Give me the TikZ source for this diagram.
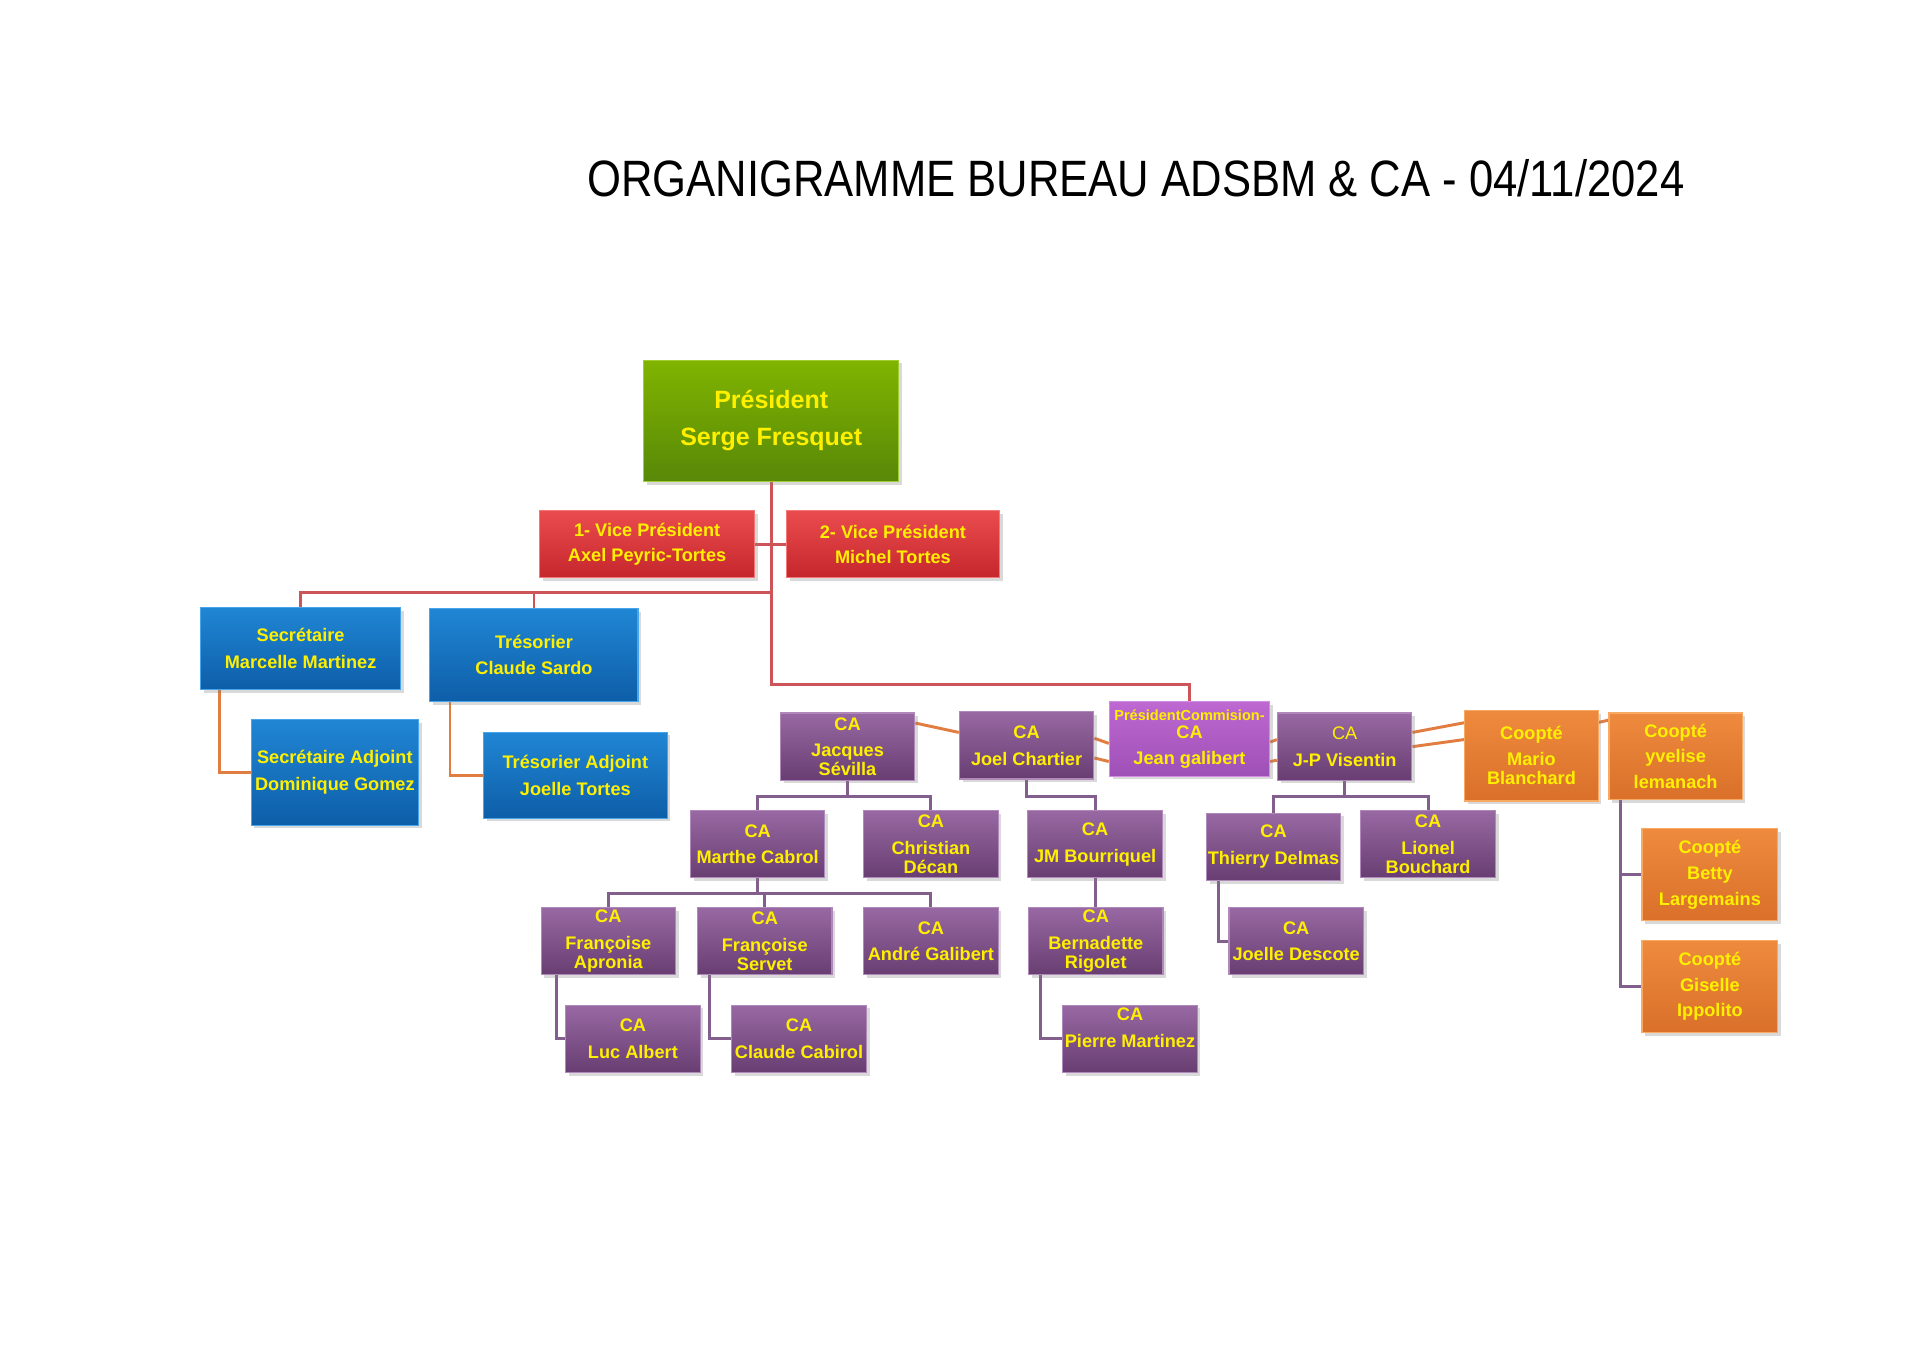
\documentclass[tikz,border=0pt]{standalone}
\usepackage{fontspec}
\setmainfont{Liberation Sans}
\usepackage{graphicx}
\usetikzlibrary{positioning,calc,shadows,backgrounds}

\definecolor{txtyellow}{RGB}{255,240,0}
\definecolor{greentop}{RGB}{128,180,0}
\definecolor{greenbot}{RGB}{88,136,8}
\definecolor{greenedge}{RGB}{160,205,50}
\definecolor{redtop}{RGB}{234,76,78}
\definecolor{redbot}{RGB}{196,38,44}
\definecolor{rededge}{RGB}{245,120,120}
\definecolor{bluetop}{RGB}{32,134,212}
\definecolor{bluebot}{RGB}{14,94,168}
\definecolor{blueedge}{RGB}{70,165,235}
\definecolor{purtop}{RGB}{152,104,162}
\definecolor{purbot}{RGB}{104,62,114}
\definecolor{puredge}{RGB}{176,136,186}
\definecolor{magtop}{RGB}{190,104,210}
\definecolor{magbot}{RGB}{158,80,182}
\definecolor{magedge}{RGB}{210,140,228}
\definecolor{orgtop}{RGB}{238,138,62}
\definecolor{orgbot}{RGB}{218,112,42}
\definecolor{orgedge}{RGB}{248,170,100}
\definecolor{redline}{RGB}{205,85,90}
\definecolor{orgline}{RGB}{225,125,65}
\definecolor{purline}{RGB}{130,95,140}

\begin{document}
\begin{tikzpicture}[
        x=1mm, y=1mm,
        box/.style={rectangle, inner sep=0pt, align=center, text=txtyellow,
                    line width=0.5pt,
                    font=\bfseries\fontsize{8}{11.8}\selectfont,
                    drop shadow={opacity=0.3, shadow xshift=0.5mm, shadow yshift=-0.5mm}},
        presbox/.style={box, top color=greentop, bottom color=greenbot, draw=greenedge,
                        minimum width=39.4mm, minimum height=18.75mm,
                        font=\bfseries\fontsize{11}{16.2}\selectfont},
        vicebox/.style={box, top color=redtop, bottom color=redbot, draw=rededge,
                        minimum width=33.3mm, minimum height=10.4mm,
                        font=\bfseries\fontsize{8}{11.3}\selectfont},
        bureaubox/.style={box, top color=bluetop, bottom color=bluebot, draw=blueedge},
        cabox/.style={box, top color=purtop, bottom color=purbot, draw=puredge,
                      minimum width=20.8mm, minimum height=10.4mm,
                      font=\bfseries\fontsize{8}{8.2}\selectfont},
        commbox/.style={cabox, top color=magtop, bottom color=magbot, draw=magedge,
                        minimum width=24.8mm, minimum height=11.55mm},
        cooptbox/.style={box, top color=orgtop, bottom color=orgbot, draw=orgedge,
                         minimum width=20.6mm, minimum height=14mm,
                         font=\bfseries\fontsize{8}{11.3}\selectfont},
        redlink/.style={draw=redline, line width=1.3pt},
        orglink/.style={draw=orgline, line width=1.3pt},
        purlink/.style={draw=purline, line width=1.3pt}
    ]
    \useasboundingbox (0,0) rectangle (297,210);

    \node[font=\fontsize{22.5}{27}\selectfont] (title) at (175.7,182.5)
        {\scalebox{0.853}[1]{ORGANIGRAMME BUREAU ADSBM \& CA - 04/11/2024}};

    % bureau
    \node[presbox] (pres) at (119.3,144.9) {Président\\Serge Fresquet};
    \node[vicebox] (vp1) at (100.1,125.8) {1- Vice Président\\Axel Peyric-Tortes};
    \node[vicebox, right=4.7mm of vp1, minimum width=33mm] (vp2) {2- Vice Président\\Michel Tortes};

    \node[bureaubox, minimum width=30.9mm, minimum height=12.7mm] (sec) at (46.5,109.7) {Secrétaire\\Marcelle Martinez};
    \node[bureaubox, minimum width=32.2mm, minimum height=14.4mm] (tres) at (82.6,108.7) {Trésorier\\Claude Sardo};
    \node[bureaubox, minimum width=25.9mm, minimum height=16.3mm] (secadj) at (51.8,90.5) {Secrétaire Adjoint\\Dominique Gomez};
    \node[bureaubox, minimum width=28.4mm, minimum height=13.3mm] (tresadj) at (89.0,90.1) {Trésorier Adjoint\\Joelle Tortes};

    % CA, first row
    \node[cabox] (jacques) at (131.1,94.5) {CA\\[3.6pt]Jacques\\Sévilla};
    \node[cabox] (joel) at (158.8,94.7) {CA\\[3.6pt]Joel Chartier};
    \node[commbox] (jean) at (184.0,95.7) {{\fontsize{6.4}{6.4}\selectfont PrésidentCommision-}\\CA\\[3.1pt]Jean galibert};
    \node[cabox] (jp) at (208.0,94.5) {{\mdseries CA}\\[3.6pt]J-P Visentin};
    \node[cooptbox] (mario) at (236.9,93.1) {Coopté\\Mario\\[-2.7pt]Blanchard};
    \node[cooptbox, minimum height=13.4mm] (yvelise) at (259.2,93.0) {Coopté\\yvelise\\lemanach};

    % CA, second row
    \node[cabox] (marthe) at (117.2,79.4) {CA\\[3.6pt]Marthe Cabrol};
    \node[cabox] (christian) at (144.0,79.4) {CA\\[3.6pt]Christian\\Décan};
    \node[cabox] (jm) at (169.4,79.4) {CA\\[3.6pt]JM Bourriquel};
    \node[cabox] (thierry) at (197.0,79.0) {CA\\[3.6pt]Thierry Delmas};
    \node[cabox] (lionel) at (220.9,79.4) {CA\\[3.6pt]Lionel\\Bouchard};

    % CA, third row
    \node[cabox] (fapronia) at (94.1,64.4) {CA\\[3.6pt]Françoise\\Apronia};
    \node[cabox] (fservet) at (118.3,64.4) {CA\\[3.6pt]Françoise\\Servet};
    \node[cabox] (andre) at (144.0,64.4) {CA\\[3.6pt]André Galibert};
    \node[cabox] (bernadette) at (169.5,64.4) {CA\\[3.6pt]Bernadette\\Rigolet};
    \node[cabox] (jdescote) at (200.5,64.4) {CA\\[3.6pt]Joelle Descote};

    % CA, fourth row
    \node[cabox] (luc) at (97.9,49.3) {CA\\[3.6pt]Luc Albert};
    \node[cabox] (cabirol) at (123.6,49.3) {CA\\[3.6pt]Claude Cabirol};
    \node[cabox, text depth=3.4mm] (pierre) at (174.8,49.3) {CA\\[3.6pt]Pierre Martinez};

    % cooptes
    \node[cooptbox, minimum width=21mm, minimum height=14.2mm] (betty) at (264.5,74.7) {Coopté\\Betty\\Largemains};
    \node[cooptbox, minimum width=21mm, minimum height=14.2mm] (giselle) at (264.5,57.4) {Coopté\\Giselle\\Ippolito};

    \begin{scope}[on background layer]
    \coordinate (rbus) at (0,104.1);
    \coordinate (ubus) at (0,118.3);
    \draw[redlink] (pres.south) -- (pres.south |- rbus) -| (jean.north);
    \draw[redlink] (sec.north) |- (pres.south |- ubus);
    \draw[redlink] (tres.north) -- (tres.north |- ubus);
    \draw[redlink] (vp1.east) -- (vp2.west);

    \draw[orglink] ([xshift=3mm]sec.south west) |- (secadj.west);
    \draw[orglink] ([xshift=3.2mm]tres.south west) |- (tresadj.west);
    \draw[orglink] ($(jacques.east)+(0,3.65)$) -- ($(joel.west)+(0,2)$);
    \draw[orglink] ($(joel.east)+(0,1.1)$) -- ($(jean.west)+(0,-0.7)$);
    \draw[orglink] ($(joel.east)+(0,-1.95)$) -- ($(jean.west)+(0,-3.5)$);
    \draw[orglink] ($(jean.east)+(0,-0.5)$) -- ($(jp.west)+(0,1.1)$);
    \draw[orglink] ($(jean.east)+(0,-3.5)$) -- ($(jp.west)+(0,-2.1)$);
    \draw[orglink] ($(jp.east)+(0,2.2)$) -- ($(mario.west)+(0,5.1)$);
    \draw[orglink] (jp.east) -- ($(mario.west)+(0,2.5)$);
    \draw[orglink] ($(mario.east)+(0,5.15)$) -- ($(yvelise.west)+(0,5.6)$);

    \draw[purlink] (jacques.south) -- ++(0,-2.45) -| (marthe.north);
    \draw[purlink] (jacques.south) -- ++(0,-2.45) -| (christian.north);
    \draw[purlink] (joel.south) -- ++(0,-2.6) -| (jm.north);
    \draw[purlink] (jp.south) -- ++(0,-2.45) -| (thierry.north);
    \draw[purlink] (jp.south) -- ++(0,-2.45) -| (lionel.north);
    \draw[purlink] (marthe.south) -- ++(0,-2.3) -| (fapronia.north);
    \draw[purlink] (marthe.south) -- ++(0,-2.3) -| (fservet.north);
    \draw[purlink] (marthe.south) -- ++(0,-2.3) -| (andre.north);
    \draw[purlink] (jm.south) -- (jm.south |- bernadette.north);
    \draw[purlink] ([xshift=2.5mm]fapronia.south west) |- (luc.west);
    \draw[purlink] ([xshift=2mm]fservet.south west) |- (cabirol.west);
    \draw[purlink] ([xshift=1.9mm]bernadette.south west) |- (pierre.west);
    \draw[purlink] ([xshift=1.9mm]thierry.south west) |- (jdescote.west);
    \draw[purlink] ([xshift=1.9mm]yvelise.south west) |- (betty.west);
    \draw[purlink] ([xshift=1.9mm]yvelise.south west) |- (giselle.west);
    \end{scope}
\end{tikzpicture}
\end{document}
